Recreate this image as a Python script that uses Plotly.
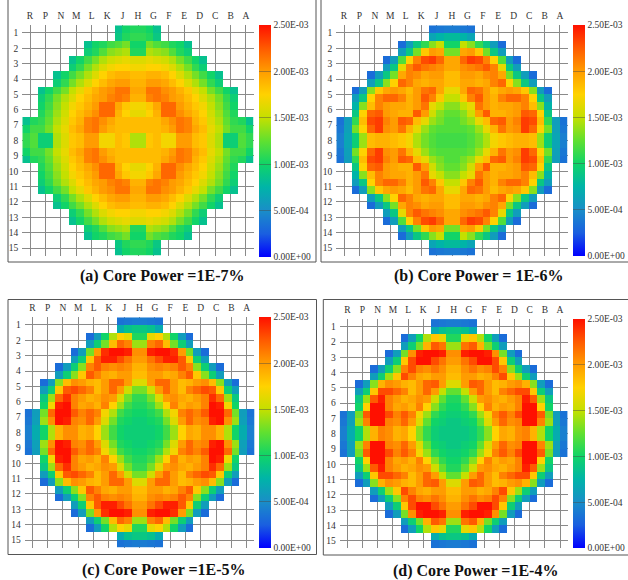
import plotly.graph_objects as go

W, H = 628, 580
_ = None

COLUMNS = ["R", "P", "N", "M", "L", "K", "J", "H", "G", "F", "E", "D", "C", "B", "A"]
ROWS = [str(i) for i in range(1, 16)]
CBAR_VALUES = [0.0, 5.0e-4, 1.0e-3, 1.5e-3, 2.0e-3, 2.5e-3]
CBAR_LABELS = ["0.00E+00", "5.00E-04", "1.00E-03", "1.50E-03", "2.00E-03", "2.50E-03"]
CAPTIONS = [
    "(a) Core Power =1E-7%",
    "(b) Core Power = 1E-6%",
    "(c) Core Power =1E-5%",
    "(d) Core Power =1E-4%",
]

UNIT = 1e-3  # node values below are given in units of 1E-03

# Upper-left quarter of the core, 2x2 nodes per fuel assembly
# (node rows 0..14 = rows 1..8 top half, node cols 0..14 = R..H left half).
Q_A = [
    [_, _, _, _, _, _, _, _, _, _, _, _, 0.85, 1.00, 1.05],
    [_, _, _, _, _, _, _, _, _, _, _, _, 0.90, 1.05, 1.10],
    [_, _, _, _, _, _, _, _, 0.85, 1.00, 1.05, 1.15, 1.20, 1.30, 1.00],
    [_, _, _, _, _, _, _, _, 0.95, 1.05, 1.20, 1.35, 1.40, 1.45, 1.05],
    [_, _, _, _, _, _, 0.85, 1.00, 1.15, 1.30, 1.45, 1.55, 1.60, 1.65, 1.60],
    [_, _, _, _, _, _, 0.95, 1.10, 1.30, 1.45, 1.60, 1.70, 1.75, 1.75, 1.70],
    [_, _, _, _, 0.85, 1.00, 1.15, 1.30, 1.45, 1.60, 1.75, 1.85, 1.90, 1.90, 1.85],
    [_, _, _, _, 0.95, 1.10, 1.30, 1.45, 1.60, 1.75, 1.85, 1.95, 2.00, 2.00, 1.90],
    [_, _, 0.85, 1.00, 1.15, 1.30, 1.50, 1.65, 1.80, 1.90, 2.00, 2.05, 2.15, 2.15, 1.95],
    [_, _, 0.95, 1.10, 1.30, 1.45, 1.60, 1.75, 1.85, 1.95, 2.00, 2.10, 2.15, 2.10, 1.90],
    [_, _, 1.00, 1.15, 1.35, 1.50, 1.70, 1.80, 1.90, 2.00, 2.20, 2.20, 1.95, 1.80, 1.70],
    [_, _, 1.05, 1.20, 1.40, 1.55, 1.75, 1.85, 1.95, 2.05, 2.20, 2.20, 1.90, 1.75, 1.65],
    [0.85, 1.05, 1.10, 1.25, 1.45, 1.60, 1.80, 1.90, 2.10, 2.15, 2.05, 1.95, 1.85, 1.85, 1.85],
    [1.00, 1.15, 1.15, 1.30, 1.50, 1.65, 1.85, 1.95, 2.10, 2.15, 2.00, 1.90, 1.85, 1.85, 1.85],
    [1.10, 1.20, 0.95, 0.95, 1.45, 1.60, 1.80, 1.85, 2.00, 2.00, 1.70, 1.70, 1.85, 1.80, 1.45],
]

Q_B = [
    [_, _, _, _, _, _, _, _, _, _, _, _, 0.35, 0.38, 0.40],
    [_, _, _, _, _, _, _, _, _, _, _, _, 0.65, 0.75, 0.80],
    [_, _, _, _, _, _, _, _, 0.32, 0.60, 0.90, 1.10, 1.35, 1.50, 1.00],
    [_, _, _, _, _, _, _, _, 0.60, 0.90, 1.30, 1.80, 2.00, 1.95, 1.30],
    [_, _, _, _, _, _, 0.32, 0.60, 1.20, 1.75, 2.10, 2.30, 2.35, 2.20, 1.95],
    [_, _, _, _, _, _, 0.60, 0.90, 1.65, 2.10, 2.25, 2.15, 2.10, 2.05, 1.95],
    [_, _, _, _, 0.32, 0.60, 0.90, 1.30, 1.95, 2.10, 2.05, 1.95, 2.00, 2.00, 1.85],
    [_, _, _, _, 0.60, 0.90, 1.35, 1.75, 2.20, 2.10, 1.95, 1.90, 1.95, 1.95, 1.85],
    [_, _, 0.32, 0.60, 1.35, 1.80, 1.95, 2.00, 1.95, 1.85, 2.00, 2.15, 2.20, 1.95, 1.65],
    [_, _, 0.60, 0.90, 1.75, 2.10, 2.20, 2.20, 2.10, 1.90, 2.00, 2.25, 2.10, 1.80, 1.50],
    [_, _, 0.75, 1.35, 1.85, 2.10, 2.00, 1.95, 1.95, 1.90, 2.00, 2.15, 1.65, 1.50, 1.35],
    [_, _, 0.90, 1.75, 2.20, 2.25, 2.00, 1.95, 1.90, 1.90, 2.25, 2.00, 1.55, 1.35, 1.25],
    [0.35, 0.60, 1.10, 1.85, 2.30, 2.35, 2.10, 2.00, 2.25, 2.20, 1.85, 1.65, 1.40, 1.30, 1.20],
    [0.38, 0.62, 1.30, 1.75, 2.20, 2.35, 2.05, 2.00, 2.15, 1.90, 1.65, 1.40, 1.25, 1.20, 1.20],
    [0.42, 0.65, 0.95, 1.40, 1.85, 1.90, 1.90, 1.85, 1.80, 1.70, 1.45, 1.30, 1.20, 1.15, 1.15],
]

Q_C = [
    [_, _, _, _, _, _, _, _, _, _, _, _, 0.35, 0.38, 0.40],
    [_, _, _, _, _, _, _, _, _, _, _, _, 0.70, 0.85, 0.90],
    [_, _, _, _, _, _, _, _, 0.32, 0.60, 1.00, 1.45, 1.75, 1.65, 1.05],
    [_, _, _, _, _, _, _, _, 0.60, 0.95, 1.30, 1.85, 2.20, 2.10, 1.40],
    [_, _, _, _, _, _, 0.32, 0.60, 1.30, 2.00, 2.40, 2.50, 2.50, 2.45, 2.05],
    [_, _, _, _, _, _, 0.60, 0.95, 1.80, 2.25, 2.45, 2.45, 2.30, 2.15, 2.00],
    [_, _, _, _, 0.32, 0.60, 0.95, 1.35, 2.10, 2.25, 2.10, 2.05, 2.10, 2.05, 1.90],
    [_, _, _, _, 0.60, 0.95, 1.35, 1.80, 2.25, 2.10, 1.95, 1.90, 2.00, 2.00, 1.85],
    [_, _, 0.32, 0.60, 1.35, 1.85, 2.05, 2.00, 1.90, 1.85, 2.00, 2.20, 2.20, 2.00, 1.60],
    [_, _, 0.60, 0.95, 1.80, 2.25, 2.30, 2.20, 2.10, 1.85, 2.00, 2.20, 2.00, 1.55, 1.30],
    [_, _, 0.90, 1.40, 2.20, 2.40, 2.10, 2.00, 1.90, 1.95, 2.05, 2.00, 1.60, 1.30, 1.10],
    [_, _, 1.00, 1.70, 2.45, 2.50, 2.10, 1.95, 2.00, 1.90, 2.10, 1.75, 1.40, 1.15, 1.05],
    [0.35, 0.60, 1.30, 2.20, 2.50, 2.50, 2.25, 2.10, 2.20, 2.10, 1.70, 1.45, 1.15, 1.05, 1.00],
    [0.38, 0.62, 1.40, 2.05, 2.50, 2.45, 2.10, 2.05, 2.20, 2.00, 1.60, 1.30, 1.05, 1.00, 0.95],
    [0.42, 0.70, 1.00, 1.45, 1.90, 2.05, 2.05, 1.90, 1.95, 1.75, 1.40, 1.15, 1.00, 0.95, 0.95],
]

Q_D = [
    [_, _, _, _, _, _, _, _, _, _, _, _, 0.35, 0.38, 0.40],
    [_, _, _, _, _, _, _, _, _, _, _, _, 0.70, 0.85, 0.90],
    [_, _, _, _, _, _, _, _, 0.32, 0.60, 1.00, 1.45, 1.80, 1.65, 1.05],
    [_, _, _, _, _, _, _, _, 0.60, 0.95, 1.30, 1.90, 2.25, 2.15, 1.40],
    [_, _, _, _, _, _, 0.32, 0.60, 1.30, 2.05, 2.45, 2.50, 2.50, 2.45, 2.05],
    [_, _, _, _, _, _, 0.60, 0.95, 1.80, 2.30, 2.50, 2.50, 2.30, 2.15, 2.00],
    [_, _, _, _, 0.32, 0.60, 0.95, 1.35, 2.10, 2.30, 2.10, 2.05, 2.15, 2.05, 1.90],
    [_, _, _, _, 0.60, 0.95, 1.40, 1.80, 2.30, 2.10, 1.95, 1.90, 2.00, 2.00, 1.85],
    [_, _, 0.32, 0.60, 1.35, 1.90, 2.05, 2.00, 1.90, 1.85, 2.00, 2.20, 2.25, 2.00, 1.60],
    [_, _, 0.60, 0.95, 1.80, 2.30, 2.30, 2.20, 2.10, 1.85, 2.00, 2.20, 2.00, 1.50, 1.25],
    [_, _, 0.90, 1.40, 2.25, 2.45, 2.10, 2.00, 1.90, 1.95, 2.05, 2.00, 1.55, 1.25, 1.05],
    [_, _, 1.00, 1.75, 2.50, 2.50, 2.10, 1.95, 2.00, 1.90, 2.10, 1.75, 1.35, 1.10, 1.00],
    [0.35, 0.60, 1.30, 2.25, 2.50, 2.50, 2.30, 2.10, 2.25, 2.10, 1.70, 1.40, 1.10, 1.00, 0.95],
    [0.38, 0.62, 1.40, 2.10, 2.50, 2.50, 2.10, 2.05, 2.20, 2.00, 1.60, 1.25, 1.00, 0.95, 0.90],
    [0.42, 0.70, 1.00, 1.45, 1.90, 2.10, 2.05, 1.90, 1.95, 1.75, 1.35, 1.10, 0.95, 0.90, 0.90],
]

# jet-style colour map used by the core maps
JET = [
    [0.00, "#0000ff"],
    [0.10, "#1a5fe0"],
    [0.20, "#1a8ec8"],
    [0.30, "#00b4a8"],
    [0.40, "#10d468"],
    [0.50, "#60e030"],
    [0.60, "#c4e000"],
    [0.70, "#ffd200"],
    [0.80, "#ff9c00"],
    [0.90, "#ff5a00"],
    [1.00, "#ff1000"],
]

SERIF = "Liberation Serif, Times New Roman, serif"


def full_core(quarter):
    """Unfold a quarter-core node map into the full 30x30 node map."""
    top = [row + row[::-1] for row in quarter]
    full = top + top[::-1]
    return [[(v * UNIT if v is not None else None) for v in row] for row in full]


# pixel boxes: (plot left, right, top, bottom), colour bar (left, top, bottom), caption (x, y)
PANELS = [
    dict(q=Q_A, box=(22.3, 253.7, 25.3, 255.7), cb=(259, 25, 257), cap=(162, 276)),
    dict(q=Q_B, box=(336.3, 567.7, 25.3, 255.7), cb=(573, 25, 256), cap=(478, 276)),
    dict(q=Q_C, box=(24.7, 254.4, 317.3, 547.7), cb=(259, 317, 548), cap=(164, 570)),
    dict(q=Q_D, box=(339.7, 567.6, 319.1, 548.3), cb=(573, 319, 548), cap=(475, 571)),
]

# outer frames around each panel (left, right, top, bottom) in pixels
FRAMES = [
    (8, 316, -5, 262),
    (321, 640, -5, 262),
    (8, 316.5, 299.5, 554.5),
    (323.3, 640, 299.5, 555),
]

fig = go.Figure()
layout = dict(
    width=W, height=H, autosize=False,
    margin=dict(l=0, r=0, t=0, b=0, pad=0, autoexpand=False),
    paper_bgcolor="white", plot_bgcolor="white",
    font=dict(family=SERIF, size=10, color="#333"),
    showlegend=False,
)

for i, p in enumerate(PANELS):
    n = "" if i == 0 else str(i + 1)
    l, r, t, b = p["box"]
    cbx, cbt, cbb = p["cb"]
    fig.add_trace(go.Heatmap(
        z=full_core(p["q"]),
        x0=-0.25, dx=0.5, y0=-0.25, dy=0.5,
        zmin=0, zmax=2.5e-3, colorscale=JET,
        xaxis="x" + n, yaxis="y" + n,
        hoverinfo="skip",
        colorbar=dict(
            x=cbx / W, xanchor="left", xpad=0,
            y=1 - (cbt + cbb) / 2 / H, yanchor="middle", ypad=0,
            len=cbb - cbt, lenmode="pixels",
            thickness=12, thicknessmode="pixels",
            outlinewidth=0,
            tickmode="array", tickvals=CBAR_VALUES, ticktext=CBAR_LABELS,
            ticks="inside", ticklen=12, tickwidth=1, tickcolor="rgba(70,70,70,0.45)",
            tickfont=dict(family=SERIF, size=9.5, color="#333"),
        ),
    ))
    layout["xaxis" + n] = dict(
        domain=[l / W, r / W], anchor="y" + n,
        range=[-0.5, 14.5], side="top",
        tickmode="array", tickvals=list(range(15)), ticktext=COLUMNS,
        ticks="", ticklabelstandoff=3,
        showgrid=True, gridcolor="#8a8a8a", gridwidth=1,
        zeroline=False, showline=False, automargin=False,
        tickfont=dict(family=SERIF, size=9.5, color="#333"),
        fixedrange=True,
    )
    layout["yaxis" + n] = dict(
        domain=[1 - b / H, 1 - t / H], anchor="x" + n,
        range=[14.5, -0.5],
        tickmode="array", tickvals=list(range(15)), ticktext=ROWS,
        ticks="", ticklabelstandoff=3,
        showgrid=True, gridcolor="#8a8a8a", gridwidth=1,
        zeroline=False, showline=False, automargin=False,
        tickfont=dict(family=SERIF, size=9.5, color="#333"),
        fixedrange=True,
    )

shapes = []
for (fl, fr, ft, fb) in FRAMES:
    shapes.append(dict(
        type="rect", xref="paper", yref="paper",
        x0=fl / W, x1=fr / W, y0=1 - fb / H, y1=1 - ft / H,
        line=dict(color="#555", width=1), fillcolor="rgba(0,0,0,0)", layer="above",
    ))
layout["shapes"] = shapes

layout["annotations"] = [
    dict(
        text="<b>" + cap + "</b>", xref="paper", yref="paper",
        x=p["cap"][0] / W, y=1 - p["cap"][1] / H,
        xanchor="center", yanchor="middle", showarrow=False,
        font=dict(family=SERIF, size=16, color="#111"),
    )
    for cap, p in zip(CAPTIONS, PANELS)
]

fig.update_layout(**layout)
fig.write_html("out.html")
